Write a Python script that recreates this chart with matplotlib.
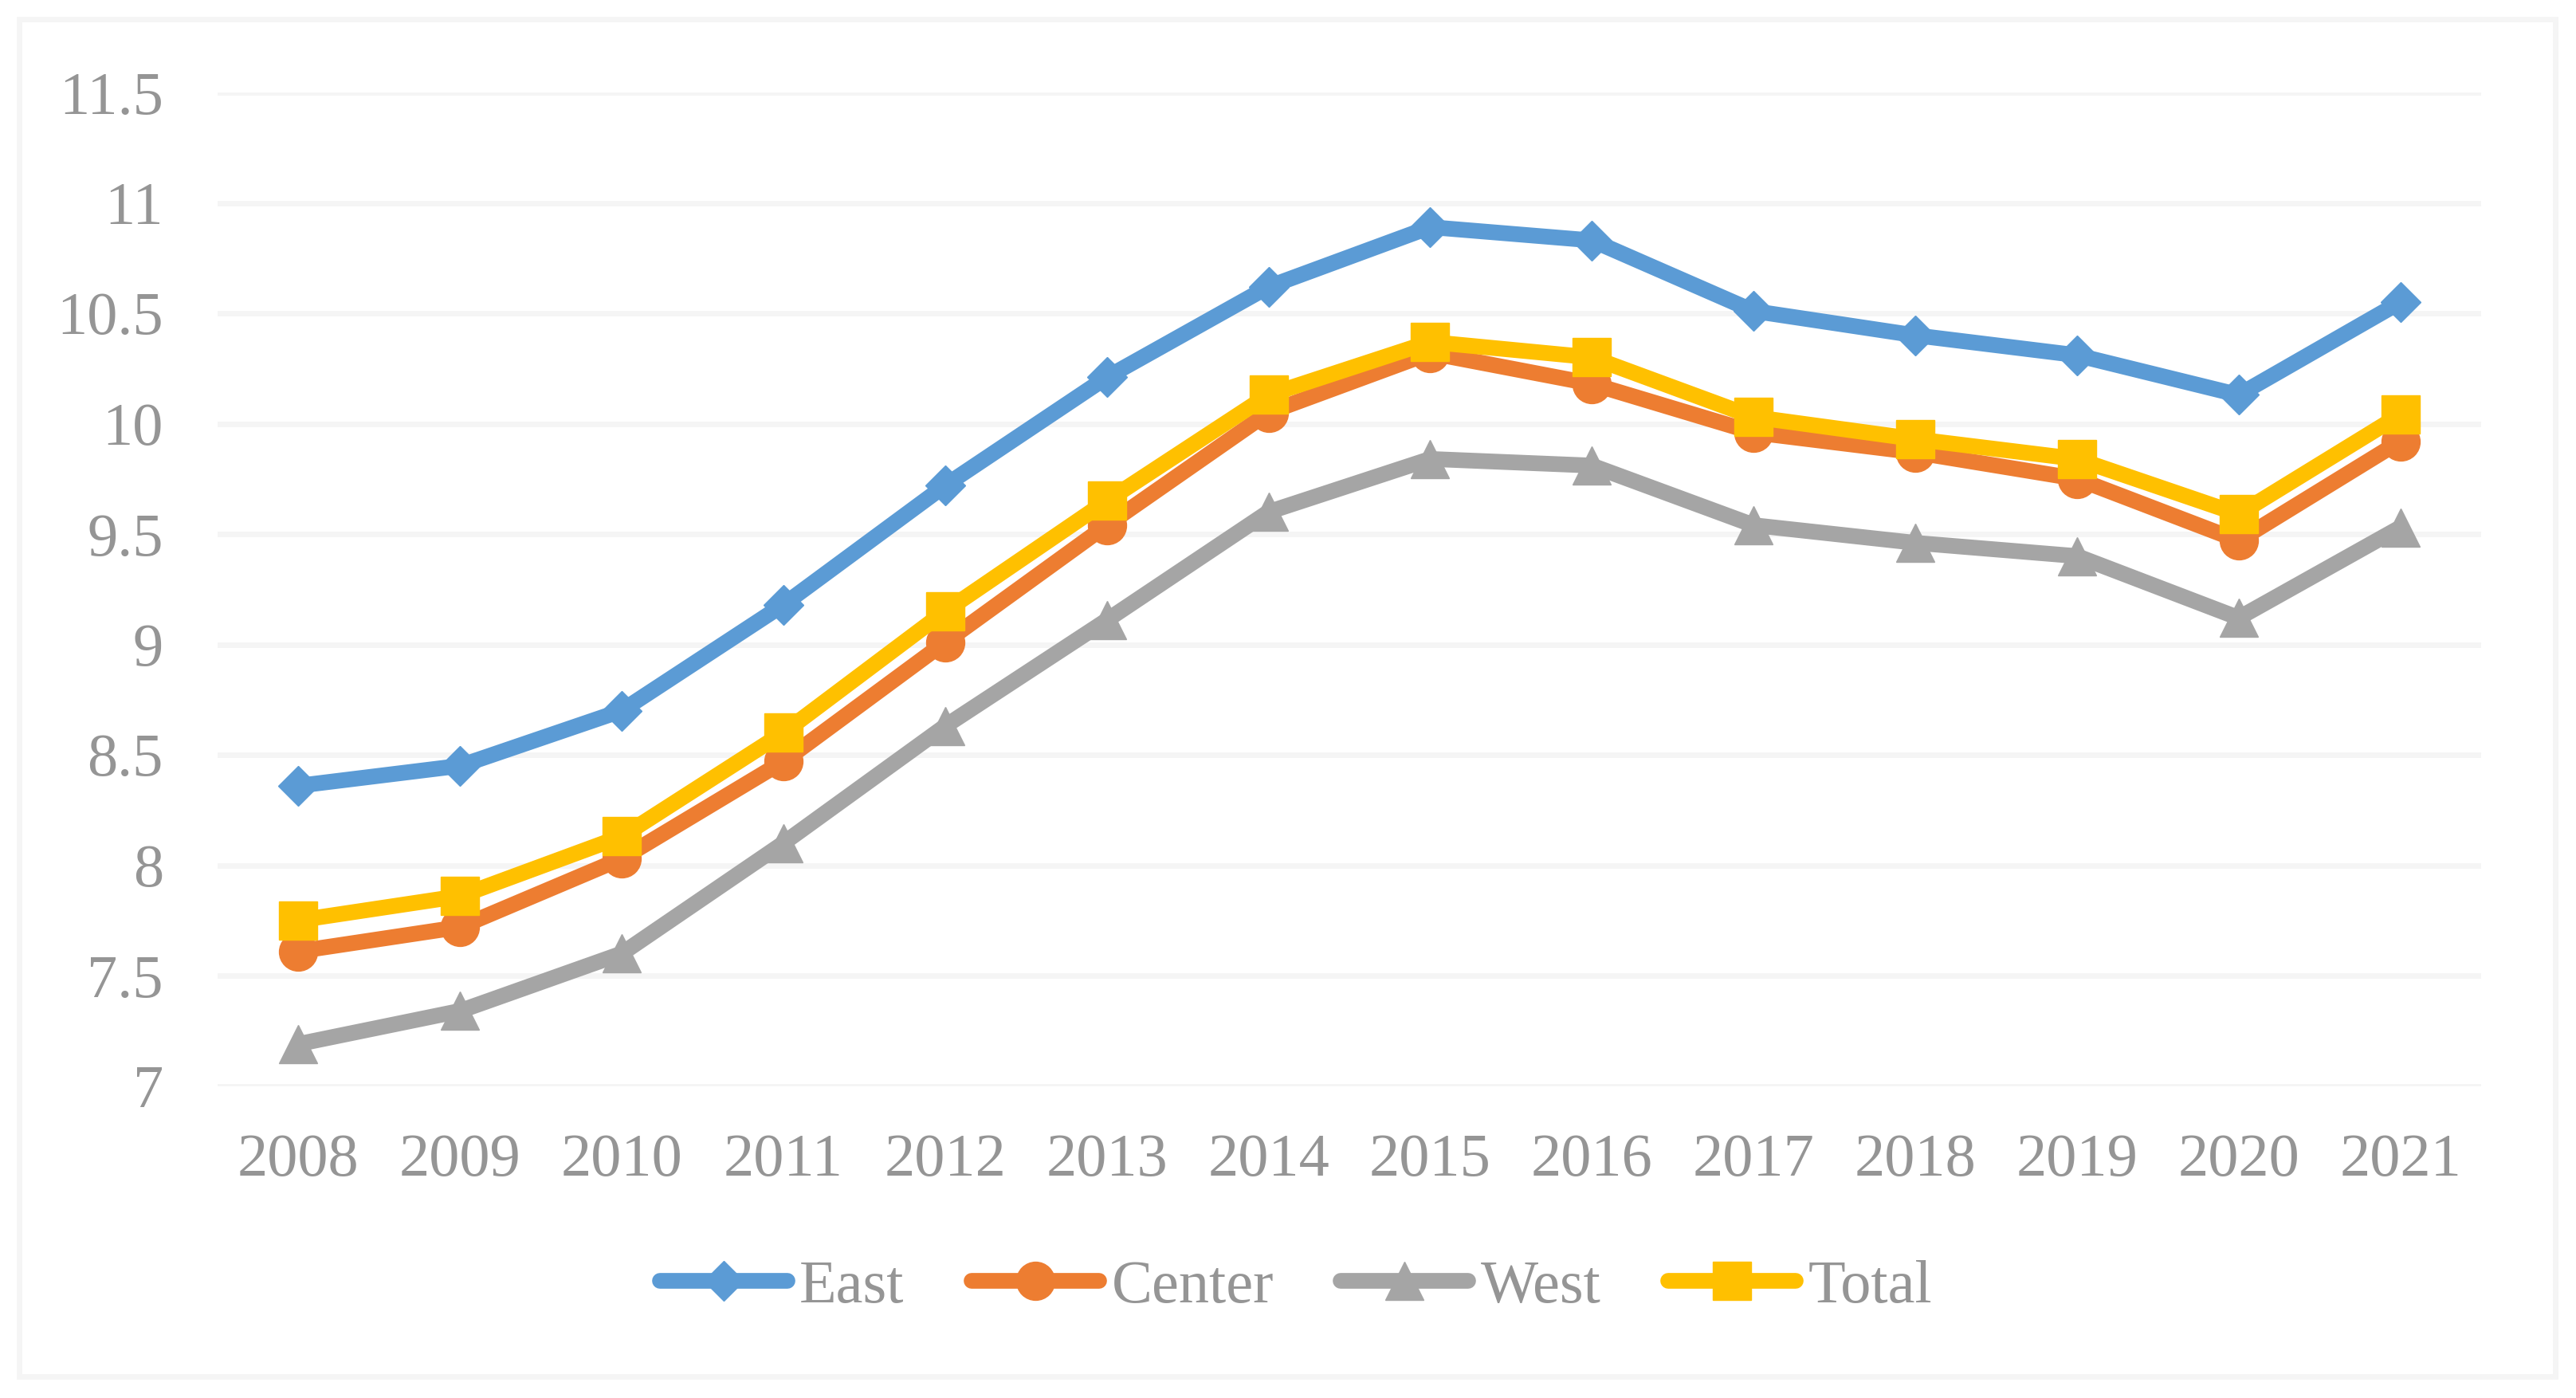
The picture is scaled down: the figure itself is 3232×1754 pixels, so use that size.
import matplotlib
matplotlib.use("Agg")
import matplotlib.pyplot as plt
from matplotlib.patches import Rectangle

years = ["2008", "2009", "2010", "2011", "2012", "2013", "2014",
         "2015", "2016", "2017", "2018", "2019", "2020", "2021"]
east = [8.36, 8.45, 8.70, 9.18, 9.72, 10.21, 10.62, 10.89, 10.83, 10.51, 10.40, 10.31, 10.13, 10.55]
center = [7.61, 7.72, 8.03, 8.47, 9.01, 9.54, 10.05, 10.32, 10.18, 9.96, 9.87, 9.75, 9.47, 9.92]
west = [7.19, 7.34, 7.60, 8.10, 8.63, 9.11, 9.60, 9.84, 9.81, 9.54, 9.46, 9.40, 9.12, 9.53]
total = [7.75, 7.86, 8.13, 8.60, 9.15, 9.65, 10.13, 10.37, 10.30, 10.03, 9.93, 9.84, 9.59, 10.04]
series_names = ["East", "Center", "West", "Total"]
y_ticks = [7, 7.5, 8, 8.5, 9, 9.5, 10, 10.5, 11, 11.5]
y_tick_labels = ["7", "7.5", "8", "8.5", "9", "9.5", "10", "10.5", "11", "11.5"]

plt.rcParams['font.family'] = ['Liberation Serif', 'DejaVu Serif']
TXT = '#959595'
FS = 55

fig = plt.figure(figsize=(32.32, 17.54), dpi=100)
ax = fig.add_axes([273/3232, 1-1362.5/1754, (3113-273)/3232, (1362.5-116)/1754])

x = list(range(len(years)))
styles = [
    (east, '#5B9BD5', 'D', 25.5),
    (center, '#ED7D31', 'o', 34.5),
    (west, '#A5A5A5', '^', 35),
    (total, '#FFC000', 's', 34.5),
]
for (vals, col, mk, ms), name in zip(styles, series_names):
    ax.plot(x, vals, color=col, lw=14.2, marker=mk, markersize=ms,
            markerfacecolor=col, markeredgecolor=col, markeredgewidth=1,
            solid_capstyle='round', solid_joinstyle='round', label=name, zorder=3)

ax.set_xlim(-0.5, len(years) - 0.5)
ax.set_ylim(7, 11.5)
ax.set_yticks(y_ticks)
ax.set_yticklabels(y_tick_labels)
ax.set_xticks(x)
ax.set_xticklabels(years)
ax.grid(axis='y', color='#F5F5F5', lw=5, zorder=0)
ax.set_axisbelow(True)
for s in ax.spines.values():
    s.set_visible(False)
ax.tick_params(axis='both', length=0, labelsize=FS, labelcolor=TXT)
ax.tick_params(axis='y', pad=49)
ax.tick_params(axis='x', pad=43)

leg = fig.legend(loc='center', bbox_to_anchor=(0.503, 1-1615/1754), ncol=4,
                 frameon=False, fontsize=FS, handlelength=2.1, handletextpad=0.2,
                 columnspacing=1.1, numpoints=1, labelcolor=TXT)

fig.patches.append(Rectangle((24/3232, 1-1727/1754), (3206-24)/3232, (1727-24)/1754,
                             transform=fig.transFigure, fill=False,
                             edgecolor='#F5F5F5', lw=5, zorder=0))

fig.savefig("out.png", dpi=100, facecolor='white')
